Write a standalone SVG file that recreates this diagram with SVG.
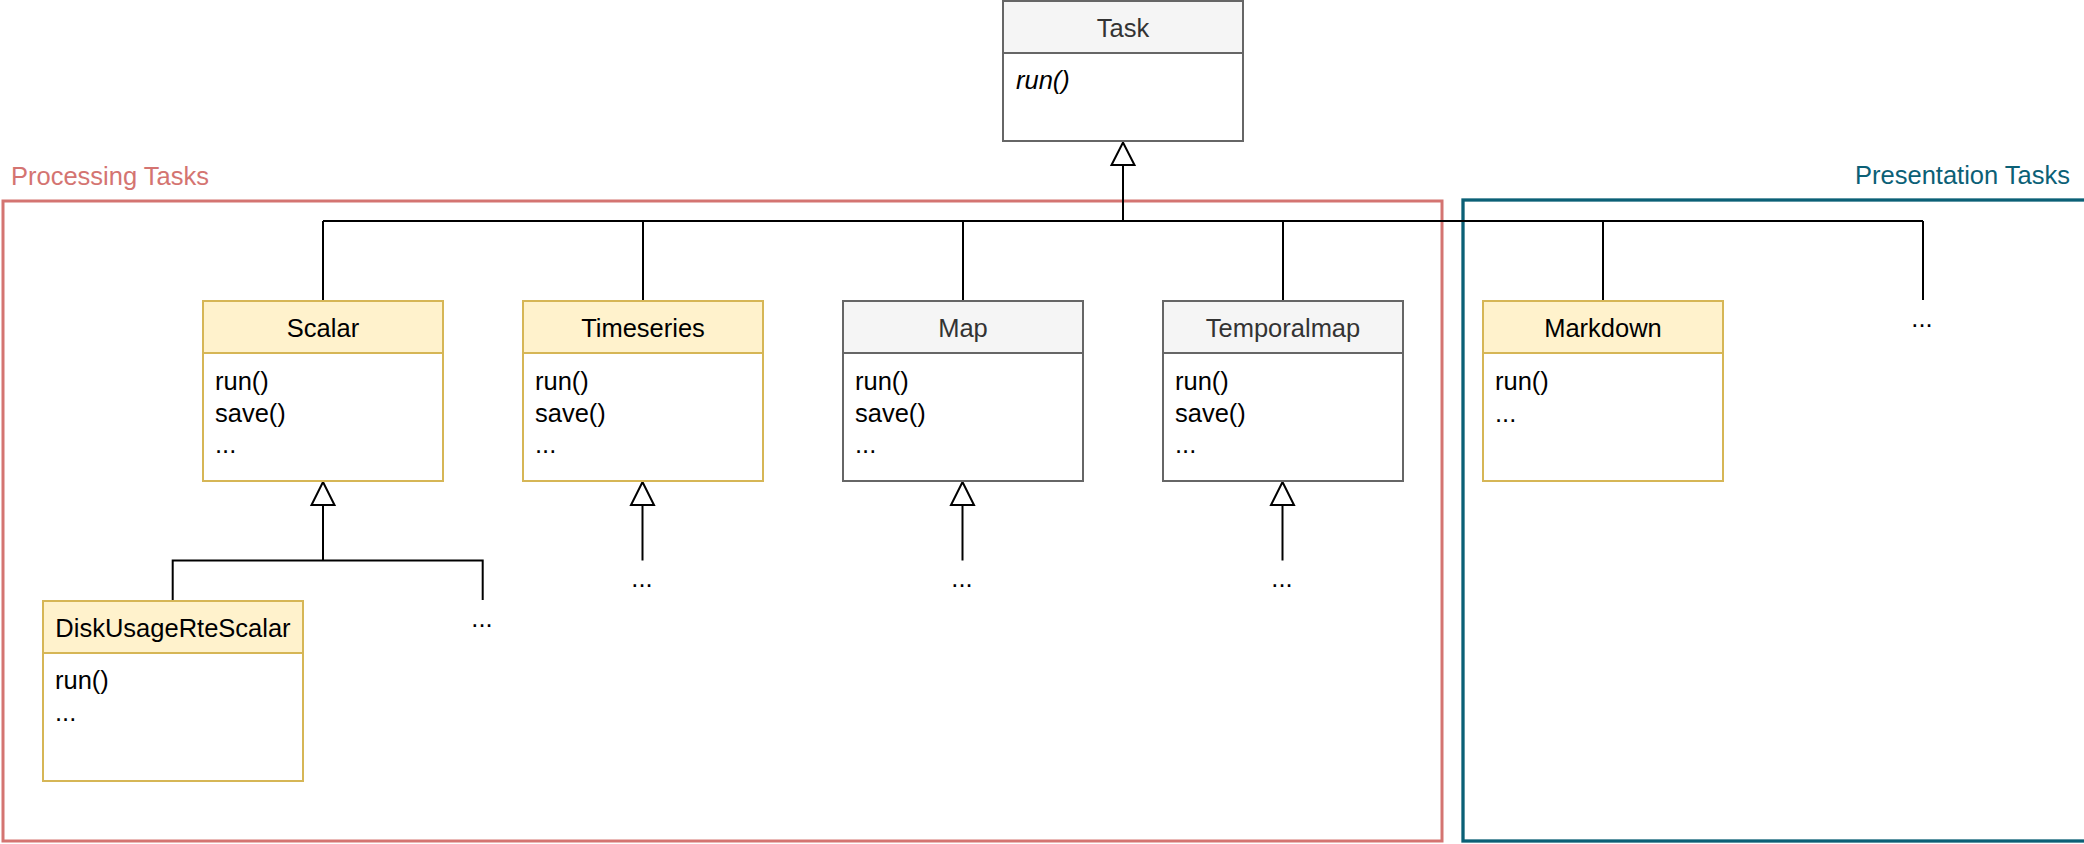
<svg xmlns="http://www.w3.org/2000/svg" width="2084" height="844" viewBox="0 0 2084 844">
<style>
text{font-family:"Liberation Sans",Arial,Helvetica,sans-serif;font-size:25.5px;fill:#000}
.hdr{text-anchor:middle}
.gray rect{stroke:#666666;stroke-width:2}
.gray .head{fill:#f5f5f5}
.gray .body{fill:#ffffff}
.gray .hdr{fill:#333333}
.yel rect{stroke:#d6b656;stroke-width:2}
.yel .head{fill:#fff2cc}
.yel .body{fill:#ffffff}
.conn{fill:none;stroke:#000;stroke-width:2}
.tri{fill:#fff;stroke:#000;stroke-width:2;stroke-linejoin:miter}
.dots{text-anchor:middle}
</style>
<rect width="2084" height="844" fill="#ffffff"/>
<g id="processing-tasks">
<rect x="3" y="201" width="1439" height="640" fill="none" stroke="#d47471" stroke-width="3"/>
<text x="11" y="185" style="fill:#d47471">Processing Tasks</text>
</g>
<g id="presentation-tasks">
<rect x="1463" y="200" width="1617" height="641" fill="none" stroke="#0b6076" stroke-width="3.3"/>
<text x="2070" y="184" text-anchor="end" style="fill:#0b6076">Presentation Tasks</text>
</g>
<g id="connectors">
<path class="conn" d="M1123 165V221M323 221H1923M323 221V301M643 221V301M963 221V301M1283 221V301M1603 221V301M1923 221V300"/>
<path class="tri" d="M1123 142.5L1134.5 165H1111.5Z"/>
<path class="conn" d="M323 505V560.5M172.7 601V560.5H482.7V600"/>
<path class="tri" d="M323 482L334.5 505H311.5Z"/>
<path class="conn" d="M642.5 505V560.5"/>
<path class="tri" d="M642.5 482L654 505H631Z"/>
<path class="conn" d="M962.5 505V560.5"/>
<path class="tri" d="M962.5 482L974 505H951Z"/>
<path class="conn" d="M1282.5 505V560.5"/>
<path class="tri" d="M1282.5 482L1294 505H1271Z"/>
</g>
<g id="task" class="gray">
<rect class="body" x="1003" y="1" width="240" height="140"/>
<rect class="head" x="1003" y="1" width="240" height="52"/>
<text class="hdr" x="1123" y="37">Task</text>
<text x="1016" y="89" font-style="italic">run()</text>
</g>
<g id="scalar" class="yel">
<rect class="body" x="203" y="301" width="240" height="180"/>
<rect class="head" x="203" y="301" width="240" height="52"/>
<text class="hdr" x="323" y="337">Scalar</text>
<text x="215" y="390">run()</text>
<text x="215" y="421.5">save()</text>
<text x="215" y="453">...</text>
</g>
<g id="timeseries" class="yel">
<rect class="body" x="523" y="301" width="240" height="180"/>
<rect class="head" x="523" y="301" width="240" height="52"/>
<text class="hdr" x="643" y="337">Timeseries</text>
<text x="535" y="390">run()</text>
<text x="535" y="421.5">save()</text>
<text x="535" y="453">...</text>
</g>
<g id="map" class="gray">
<rect class="body" x="843" y="301" width="240" height="180"/>
<rect class="head" x="843" y="301" width="240" height="52"/>
<text class="hdr" x="963" y="337">Map</text>
<text x="855" y="390">run()</text>
<text x="855" y="421.5">save()</text>
<text x="855" y="453">...</text>
</g>
<g id="temporalmap" class="gray">
<rect class="body" x="1163" y="301" width="240" height="180"/>
<rect class="head" x="1163" y="301" width="240" height="52"/>
<text class="hdr" x="1283" y="337">Temporalmap</text>
<text x="1175" y="390">run()</text>
<text x="1175" y="421.5">save()</text>
<text x="1175" y="453">...</text>
</g>
<g id="markdown" class="yel">
<rect class="body" x="1483" y="301" width="240" height="180"/>
<rect class="head" x="1483" y="301" width="240" height="52"/>
<text class="hdr" x="1603" y="337">Markdown</text>
<text x="1495" y="390">run()</text>
<text x="1495" y="421.5">...</text>
</g>
<g id="diskusage" class="yel">
<rect class="body" x="43" y="601" width="260" height="180"/>
<rect class="head" x="43" y="601" width="260" height="52"/>
<text class="hdr" x="173" y="637">DiskUsageRteScalar</text>
<text x="55" y="688.5">run()</text>
<text x="55" y="720.5">...</text>
</g>
<g id="more-presentation"><text class="dots" x="1922" y="327">...</text></g>
<g id="more-scalar"><text class="dots" x="482" y="627">...</text></g>
<g id="more-timeseries"><text class="dots" x="642" y="587">...</text></g>
<g id="more-map"><text class="dots" x="962" y="587">...</text></g>
<g id="more-temporalmap"><text class="dots" x="1282" y="587">...</text></g>
</svg>
